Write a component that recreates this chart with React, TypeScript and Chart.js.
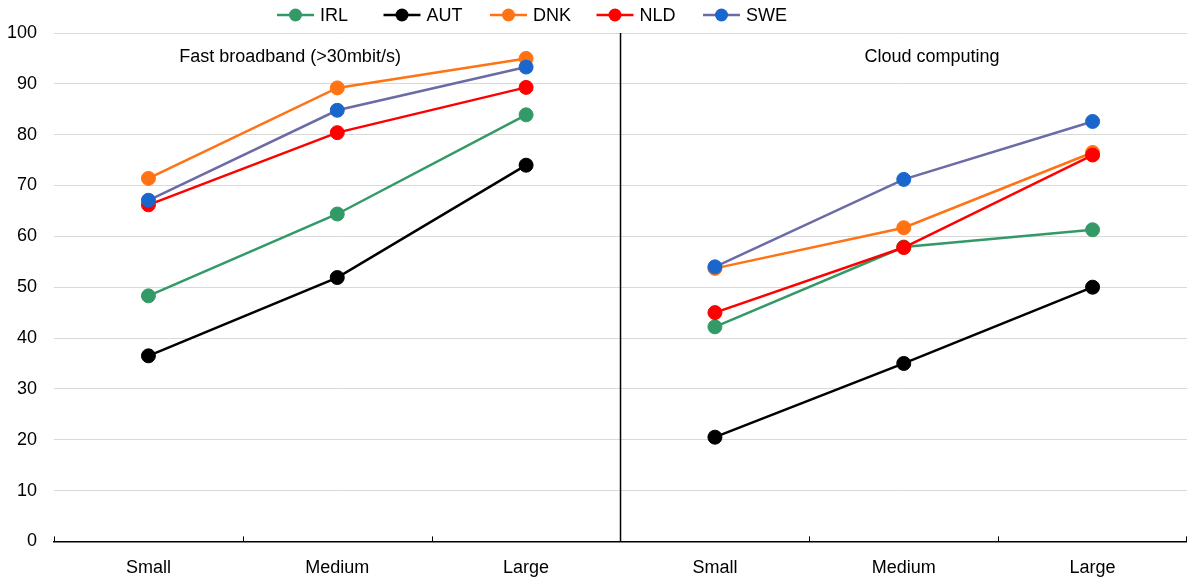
import React, { useEffect, useRef } from 'react';
import { Chart, registerables } from 'chart.js';
Chart.register(...registerables);

const categories = ['Small', 'Medium', 'Large', 'Small', 'Medium', 'Large'];
const panelTitles = ['Fast broadband (>30mbit/s)', 'Cloud computing'];
const countries = ['IRL', 'AUT', 'DNK', 'NLD', 'SWE'];
const irl = [48.3, 64.4, 83.9, 42.2, 57.9, 61.3];
const aut = [36.5, 51.9, 74.0, 20.5, 35.0, 50.0];
const dnk = [71.4, 89.2, 95.0, 53.7, 61.7, 76.5];
const nld = [66.2, 80.4, 89.3, 45.0, 57.8, 76.0];
const swe = [67.1, 84.8, 93.3, 54.0, 71.2, 82.6];
const seriesValues = [irl, aut, dnk, nld, swe];
const lineColors = ['#339966', '#000000', '#ff7314', '#ff0000', '#6b6ba6'];
const pointColors = ['#339966', '#000000', '#ff7314', '#ff0000', '#1a66cc'];
const yMin = 0;
const yMax = 100;
const yStep = 10;

const FONT = "'Liberation Sans', Arial, sans-serif";

const overlayPlugin = {
  id: 'overlay',
  afterDraw(chart: any) {
    const { ctx, chartArea, scales } = chart;
    const x = scales.x;
    const y = scales.y;
    ctx.save();
    // divider
    const divX = (x.getPixelForValue(2) + x.getPixelForValue(3)) / 2;
    ctx.strokeStyle = '#000';
    ctx.lineWidth = 1.5;
    ctx.beginPath();
    ctx.moveTo(divX, chartArea.top);
    ctx.lineTo(divX, chartArea.bottom);
    ctx.stroke();
    // inward tick marks at category boundaries
    ctx.lineWidth = 1;
    const bounds = [chartArea.left, chartArea.right];
    for (let i = 0; i < categories.length - 1; i++) {
      if (i === 2) continue;
      bounds.push((x.getPixelForValue(i) + x.getPixelForValue(i + 1)) / 2);
    }
    bounds.forEach((bx) => {
      const px = Math.min(Math.round(bx) + 0.5, chartArea.right - 0.5);
      ctx.beginPath();
      ctx.moveTo(px, chartArea.bottom);
      ctx.lineTo(px, chartArea.bottom - 5);
      ctx.stroke();
    });
    // panel titles
    ctx.fillStyle = '#000';
    ctx.font = `18px ${FONT}`;
    ctx.textAlign = 'center';
    ctx.textBaseline = 'middle';
    ctx.fillText(panelTitles[0], x.getPixelForValue(0.75), y.getPixelForValue(95.3));
    ctx.fillText(panelTitles[1], x.getPixelForValue(4.15), y.getPixelForValue(95.3));
    // legend
    const startX = 277;
    const slot = 106.5;
    const ly = 15;
    ctx.textAlign = 'left';
    countries.forEach((name, i) => {
      const sx = startX + i * slot;
      ctx.strokeStyle = lineColors[i];
      ctx.lineWidth = 2.5;
      ctx.beginPath();
      ctx.moveTo(sx, ly);
      ctx.lineTo(sx + 37, ly);
      ctx.stroke();
      ctx.fillStyle = pointColors[i];
      ctx.beginPath();
      ctx.arc(sx + 18.5, ly, 6.5, 0, Math.PI * 2);
      ctx.fill();
      ctx.fillStyle = '#000';
      ctx.fillText(name, sx + 43, ly + 1);
    });
    ctx.restore();
  },
};

export default function App() {
  const ref = useRef<HTMLCanvasElement>(null);
  useEffect(() => {
    if (!ref.current) return;
    Chart.defaults.font.family = FONT;
    const datasets = countries.map((name, i) => ({
      label: name,
      data: seriesValues[i],
      borderColor: lineColors[i],
      backgroundColor: pointColors[i],
      pointBackgroundColor: pointColors[i],
      pointBorderColor: pointColors[i],
      pointBorderWidth: 1,
      pointRadius: 7,
      borderWidth: 2.5,
      fill: false,
      tension: 0,
      clip: false,
      order: countries.length - i,
      segment: {
        borderColor: (c: any) => (c.p0DataIndex === 2 ? 'rgba(0,0,0,0)' : undefined),
      },
    }));
    const chart = new Chart(ref.current, {
      type: 'line',
      data: { labels: categories, datasets },
      plugins: [overlayPlugin],
      options: {
        animation: false,
        responsive: true,
        maintainAspectRatio: false,
        layout: { autoPadding: false, padding: { top: 33, left: -10, right: 0, bottom: -14 } },
        plugins: {
          legend: { display: false },
          tooltip: { enabled: false },
        },
        scales: {
          x: {
            offset: true,
            grid: { display: false, drawTicks: false },
            border: { display: true, color: '#000', width: 1.5 },
            ticks: { color: '#000', font: { size: 18 }, padding: 16, autoSkip: false, maxRotation: 0 },
          },
          y: {
            min: yMin,
            max: yMax,
            border: { display: false },
            grid: { color: '#d9d9d9', lineWidth: 1, drawTicks: false },
            ticks: { stepSize: yStep, color: '#000', font: { size: 18 }, padding: 17 },
          },
        },
      },
    });
    return () => chart.destroy();
  }, []);
  return (
    <div style={{ position: 'fixed', left: 0, top: 0, width: 1187, height: 581, background: '#fff' }}>
      <canvas ref={ref} />
    </div>
  );
}
